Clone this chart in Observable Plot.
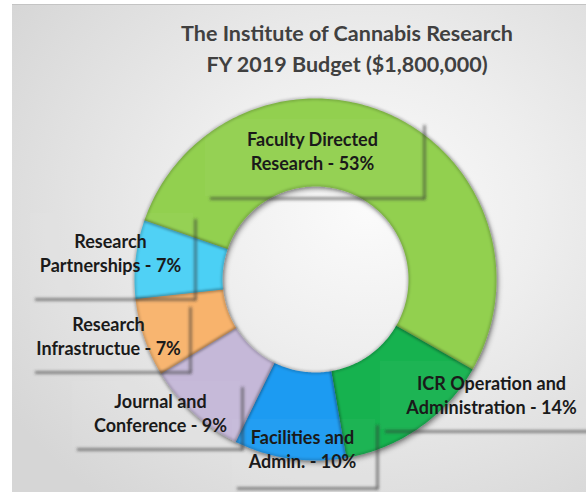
<!DOCTYPE html>
<html><head><meta charset="utf-8">
<script src="https://cdn.jsdelivr.net/npm/d3@7"></script>
<script src="https://cdn.jsdelivr.net/npm/@observablehq/plot@0.6"></script>
<style>
html,body{margin:0;padding:0;background:#fff;width:586px;height:492px;overflow:hidden;}
#frame{position:absolute;left:12px;top:4px;width:574px;height:488px;overflow:hidden;
  background: radial-gradient(ellipse 75% 75% at 62% 42%, #fbfbfb 0%, #eeeeee 40%, #d6d6d6 100%);
  border-top:1px solid #c4c4c4;}
#title{position:absolute;left:0;top:13px;width:670px;text-align:center;
  font-family:Lato,"Open Sans",sans-serif;font-weight:bold;font-size:21.5px;line-height:31px;color:#404040;}
#chart{position:absolute;left:-12px;top:76px;}
</style>
</head><body>
<div id="frame">
  <div id="title">The Institute of Cannabis Research<br>FY 2019 Budget ($1,800,000)</div>
  <div id="chart"></div>
</div>
<script>
// ---- data ----
const categories = ["Faculty Directed\nResearch", "ICR Operation and\nAdministration", "Facilities and\nAdmin.", "Journal and\nConference", "Research\nInfrastructue", "Research\nPartnerships"];
const shares = [53, 14, 10, 9, 7, 7];

// ---- style / layout ----
const colors = ["#92d050", "#12b24f", "#1f9bf2", "#c5b8d8", "#f8b36c", "#4bd0f5"];
const cx = 315, cy = 278, R = 181, r = 93;
const startDeg = 289;
// label anchors (page px) and label boxes [x1, y1, x2, y2]
const labelPos = [[312, 149], [491, 393], [302, 447], [160, 411], [108, 334], [110, 251]];
const boxes = [[205, 118, 422, 195], [380, 360, 600, 428], [232, 418, 375, 485], [72, 380, 240, 446], [30, 300, 188, 369], [30, 212, 193, 296]];

const pie = d3.pie().sort(null).value(d => d)
  .startAngle(startDeg * Math.PI / 180).endAngle(startDeg * Math.PI / 180 + 2 * Math.PI)(shares);

const pts = [];
pie.forEach((a, i) => {
  const n = Math.max(8, Math.ceil((a.endAngle - a.startAngle) / (Math.PI / 180)));
  for (let k = 0; k <= n; k++) {
    const t = a.startAngle + (a.endAngle - a.startAngle) * k / n;
    pts.push({cat: categories[i], x: cx + R * Math.sin(t), y: cy - R * Math.cos(t)});
  }
  for (let k = n; k >= 0; k--) {
    const t = a.startAngle + (a.endAngle - a.startAngle) * k / n;
    pts.push({cat: categories[i], x: cx + r * Math.sin(t), y: cy - r * Math.cos(t)});
  }
});

const labels = categories.map((c, i) => ({
  text: c + " - " + shares[i] + "%", x: labelPos[i][0], y: labelPos[i][1]
}));
const boxData = boxes.map(b => ({x1: b[0], y1: b[1], x2: b[2], y2: b[3]}));

const chart = Plot.plot({
  width: 586, height: 412, margin: 0,
  x: {domain: [0, 586], range: [0, 586], axis: null},
  y: {domain: [80, 492], range: [0, 412], axis: null},
  color: {domain: categories, range: colors},
  style: {background: "transparent", overflow: "visible"},
  marks: [
    Plot.line(pts, {x: "x", y: "y", z: "cat", fill: "cat", curve: "linear-closed", stroke: "none"}),
    Plot.line(pts, {x: "x", y: "y", z: "cat", stroke: "#000", strokeOpacity: 0.35, strokeWidth: 1.6, curve: "linear-closed"}),
    Plot.rect(boxData, {x1: "x1", x2: "x2", y1: "y1", y2: "y2", fill: "#ffffff", fillOpacity: 0.03}),
    Plot.ruleY(boxData, {y: d => d.y2 + 2, x1: d => d.x1 + 5, x2: d => d.x2 + 3, stroke: "#333", strokeOpacity: 0.55, strokeWidth: 3}),
    Plot.ruleX(boxData, {x: d => d.x2 + 2, y1: d => d.y1 + 6, y2: d => d.y2 + 3, stroke: "#333", strokeOpacity: 0.55, strokeWidth: 3}),
    Plot.text(labels, {x: "x", y: "y", text: "text", fontSize: 18, fontWeight: "bold", fontFamily: "Lato, 'Open Sans', sans-serif", fill: "#1a1a1a", lineHeight: 1.33, lineAnchor: "middle"})
  ]
});

const svg = d3.select(chart);
const defs = svg.insert("defs", ":first-child");
defs.append("filter").attr("id", "blur").attr("x", "-20%").attr("y", "-20%").attr("width", "140%").attr("height", "140%")
  .append("feGaussianBlur").attr("stdDeviation", 1.4);
const f2 = defs.append("filter").attr("id", "shadow").attr("x", "-20%").attr("y", "-20%").attr("width", "140%").attr("height", "140%");
f2.append("feDropShadow").attr("dx", 2).attr("dy", 3).attr("stdDeviation", 2.5).attr("flood-color", "#000").attr("flood-opacity", 0.35);
const groups = svg.selectAll(":scope > g").nodes();
d3.select(groups[0]).attr("filter", "url(#shadow)");
d3.select(groups[1]).attr("filter", "url(#blur)");
d3.select(groups[3]).attr("filter", "url(#blur)");
d3.select(groups[4]).attr("filter", "url(#blur)");
document.getElementById("chart").appendChild(chart);
</script>
</body></html>
